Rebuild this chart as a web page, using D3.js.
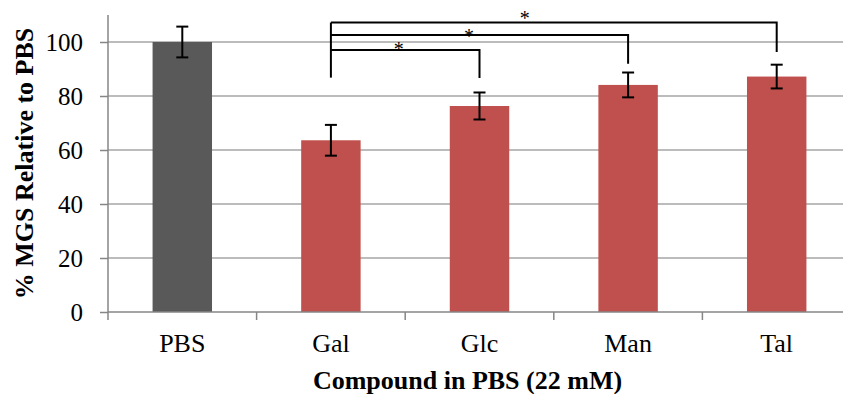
<!DOCTYPE html>
<html>
<head>
<meta charset="utf-8">
<script src="https://cdn.jsdelivr.net/npm/d3@7"></script>
<style>
  html, body { margin: 0; padding: 0; background: #fff; }
  svg { display: block; }
  text { font-family: "Liberation Serif", "Times New Roman", serif; fill: #000; }
</style>
</head>
<body>
<svg id="chart" width="843" height="394"></svg>
<script>
// ---- data ----
const categories = ["PBS", "Gal", "Glc", "Man", "Tal"];
const values = [100, 63.6, 76.3, 84.1, 87.2];
const errors = [5.7, 5.7, 5.0, 4.6, 4.4];
const barColors = ["#595959", "#c0504d", "#c0504d", "#c0504d", "#c0504d"];
const yTicks = [0, 20, 40, 60, 80, 100];
// significance brackets: from Gal to target
const bracketFrom = "Gal";
const bracketTo = ["Glc", "Man", "Tal"];
const bracketLevel = [97.0, 102.6, 107.2];
const bracketFromBottom = 86.8;
const bracketToBottom = [86.7, 91.9, 96.3];
const starLabel = ["*", "*", "*"];
const starFrac = [0.456, 0.465, 0.435];
const starLevel = [98.3, 102.8, 109.8];
const yTitle = "% MGS Relative to PBS";
const xTitle = "Compound in PBS (22 mM)";

(function () {
// ---- layout ----
const svg = d3.select("#chart");
const mLeft = 108, mRight = 851, mTop = 15, mBottom = 312;

const x = d3.scaleBand().domain(categories).range([mLeft, mRight]).paddingInner(0).paddingOuter(0);
const y = d3.scaleLinear().domain([0, 110]).range([mBottom, mTop]);
const barW = x.bandwidth() * 0.4;
const cx = c => x(c) + x.bandwidth() / 2;

// gridlines
svg.append("g").selectAll("line").data(yTicks.filter(t => t > 0)).join("line")
  .attr("x1", mLeft).attr("x2", 843)
  .attr("y1", d => y(d)).attr("y2", d => y(d))
  .attr("stroke", "#a6a6a6").attr("stroke-width", 1.5);

// bars
svg.append("g").selectAll("rect").data(categories).join("rect")
  .attr("x", d => cx(d) - barW / 2)
  .attr("width", barW)
  .attr("y", (d, i) => y(values[i]))
  .attr("height", (d, i) => y(0) - y(values[i]))
  .attr("fill", (d, i) => barColors[i]);

// y axis
const yAxis = d3.axisLeft(y).tickValues(yTicks).tickSize(8).tickPadding(17).tickFormat(d3.format("d"));
const gy = svg.append("g").attr("transform", `translate(${mLeft},0)`).call(yAxis);
gy.select(".domain").attr("stroke", "#868686").attr("stroke-width", 1.5).attr("d", `M0,${y(110)}V${y(0)}`);
gy.selectAll(".tick line").attr("stroke", "#868686").attr("stroke-width", 1.5);
gy.selectAll(".tick text").attr("font-size", 25).attr("font-family", "Liberation Serif").attr("fill", "#000");

// x axis
const gx = svg.append("g").attr("transform", `translate(0,${mBottom})`);
gx.append("line").attr("x1", mLeft).attr("x2", 843).attr("y1", 0).attr("y2", 0)
  .attr("stroke", "#868686").attr("stroke-width", 1.5);
const boundaries = categories.map(c => x(c)).concat([x(categories[categories.length - 1]) + x.bandwidth()]);
gx.selectAll("line.tk").data(boundaries).join("line").attr("class", "tk")
  .attr("x1", d => d).attr("x2", d => d).attr("y1", 0).attr("y2", 8)
  .attr("stroke", "#868686").attr("stroke-width", 1.5);
gx.selectAll("text").data(categories).join("text")
  .attr("x", d => cx(d)).attr("y", 40)
  .attr("text-anchor", "middle").attr("font-size", 26)
  .text(d => d);

// error bars
const eb = svg.append("g").attr("stroke", "#000").attr("stroke-width", 2);
categories.forEach((c, i) => {
  const xc = cx(c);
  eb.append("line").attr("x1", xc).attr("x2", xc).attr("y1", y(values[i] + errors[i])).attr("y2", y(values[i] - errors[i]));
  eb.append("line").attr("x1", xc - 6).attr("x2", xc + 6).attr("y1", y(values[i] + errors[i])).attr("y2", y(values[i] + errors[i]));
  eb.append("line").attr("x1", xc - 6).attr("x2", xc + 6).attr("y1", y(values[i] - errors[i])).attr("y2", y(values[i] - errors[i]));
});

// brackets
const br = svg.append("g").attr("stroke", "#000").attr("stroke-width", 2).attr("fill", "none");
const x0 = cx(bracketFrom);
br.append("line").attr("x1", x0).attr("x2", x0)
  .attr("y1", y(d3.max(bracketLevel))).attr("y2", y(bracketFromBottom));
bracketTo.forEach((c, i) => {
  const x1 = cx(c);
  br.append("path").attr("d", `M${x0},${y(bracketLevel[i])}H${x1}V${y(bracketToBottom[i])}`);
  svg.append("text")
    .attr("x", x0 + starFrac[i] * (x1 - x0))
    .attr("y", y(starLevel[i]) + 9)
    .attr("text-anchor", "middle").attr("font-size", 20).attr("fill", "#222")
    .text(starLabel[i]);
});

// axis titles
svg.append("text")
  .attr("x", (mLeft + 843) / 2 - 8).attr("y", 389)
  .attr("text-anchor", "middle").attr("font-size", 26).attr("font-weight", "bold")
  .text(xTitle);
svg.append("text")
  .attr("transform", `translate(33,${(mTop + mBottom) / 2}) rotate(-90)`)
  .attr("text-anchor", "middle").attr("font-size", 26).attr("font-weight", "bold")
  .text(yTitle);
})();
</script>
</body>
</html>
